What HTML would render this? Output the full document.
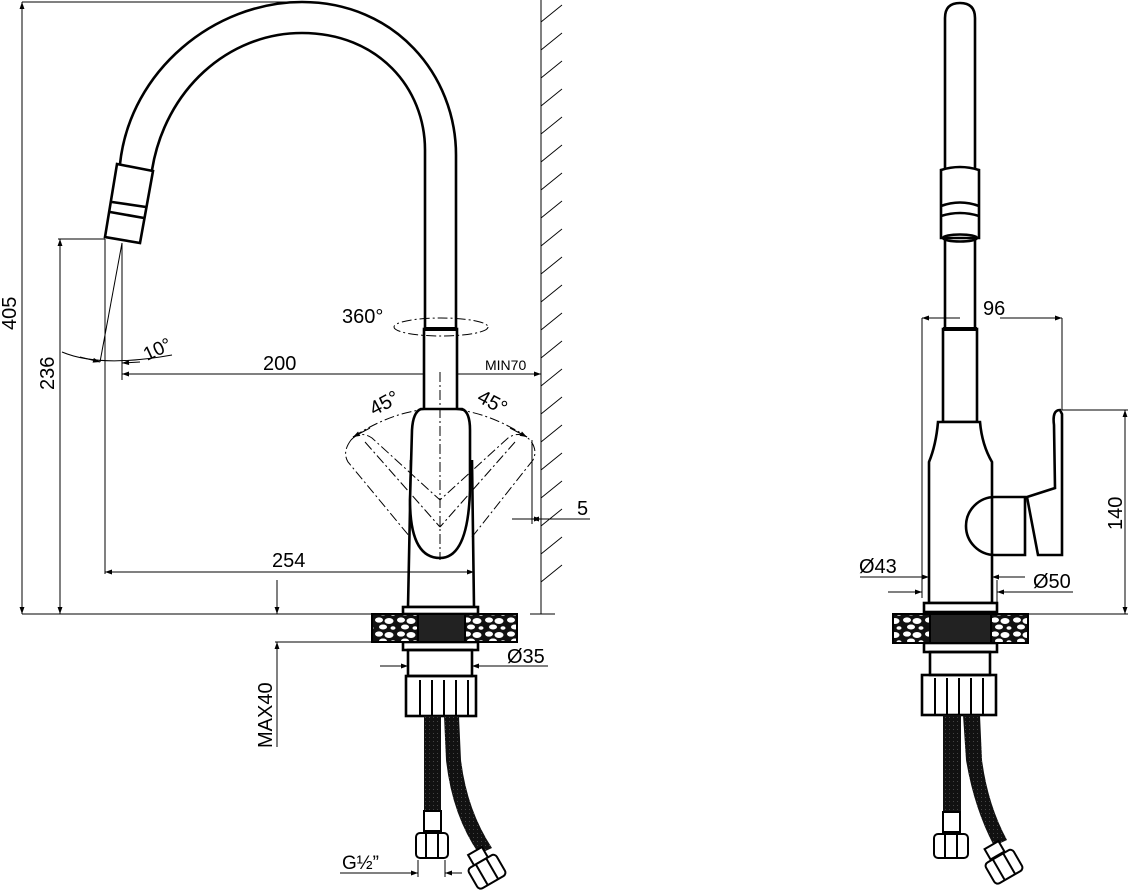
<!DOCTYPE html>
<html><head><meta charset="utf-8"><style>
html,body{margin:0;padding:0;background:#fff;}
svg{display:block;}
text{font-family:"Liberation Sans",sans-serif;fill:#000;}
</style></head><body>
<svg width="1129" height="896" viewBox="0 0 1129 896" xmlns="http://www.w3.org/2000/svg">
<defs>
<marker id="a" viewBox="0 0 10 10" refX="10" refY="5" markerWidth="14" markerHeight="7" markerUnits="userSpaceOnUse" orient="auto"><path d="M0,1.5 L10,5 L0,8.5 Z" fill="#000"/></marker>
<pattern id="stone" width="22" height="14" patternUnits="userSpaceOnUse">
<rect width="22" height="14" fill="#111"/>
<ellipse cx="5" cy="4" rx="4" ry="2.6" fill="#fff"/>
<ellipse cx="15" cy="5" rx="4.5" ry="3" fill="#fff"/>
<ellipse cx="9" cy="11" rx="4" ry="2.5" fill="#fff"/>
<ellipse cx="19" cy="12" rx="2.5" ry="1.8" fill="#fff"/>
</pattern>
<pattern id="hose" width="4" height="4" patternUnits="userSpaceOnUse">
<rect width="4" height="4" fill="#111"/><rect x="1" y="1" width="1" height="1" fill="#444"/>
</pattern>
</defs>

<g fill="none" stroke="#000" stroke-width="1">
<line x1="541" y1="0" x2="541" y2="614"/>
<line x1="530" y1="614" x2="555" y2="614"/>
<g stroke-width="0.9">
<line x1="541" y1="22" x2="562" y2="5"/><line x1="541" y1="50" x2="562" y2="33"/><line x1="541" y1="78" x2="562" y2="61"/><line x1="541" y1="106" x2="562" y2="89"/><line x1="541" y1="134" x2="562" y2="117"/><line x1="541" y1="162" x2="562" y2="145"/><line x1="541" y1="190" x2="562" y2="173"/><line x1="541" y1="218" x2="562" y2="201"/><line x1="541" y1="246" x2="562" y2="229"/><line x1="541" y1="274" x2="562" y2="257"/><line x1="541" y1="302" x2="562" y2="285"/><line x1="541" y1="330" x2="562" y2="313"/><line x1="541" y1="358" x2="562" y2="341"/><line x1="541" y1="386" x2="562" y2="369"/><line x1="541" y1="414" x2="562" y2="397"/><line x1="541" y1="442" x2="562" y2="425"/><line x1="541" y1="470" x2="562" y2="453"/><line x1="541" y1="498" x2="562" y2="481"/><line x1="541" y1="526" x2="562" y2="509"/><line x1="541" y1="554" x2="562" y2="537"/><line x1="541" y1="582" x2="562" y2="565"/>
</g>

<line x1="22" y1="2" x2="300" y2="2"/>
<line x1="22" y1="614" x2="403" y2="614"/>
<line x1="22" y1="614" x2="22" y2="2" marker-end="url(#a)"/>
<line x1="22" y1="2" x2="22" y2="614" marker-end="url(#a)"/>
<line x1="58" y1="239" x2="105" y2="239"/>
<line x1="60" y1="614" x2="60" y2="239" marker-end="url(#a)"/>
<line x1="60" y1="239" x2="60" y2="614" marker-end="url(#a)"/>
<line x1="105" y1="239" x2="105" y2="574"/>
<line x1="474" y1="560" x2="474" y2="607"/>
<line x1="300" y1="572" x2="105" y2="572" marker-end="url(#a)"/>
<line x1="300" y1="572" x2="474" y2="572" marker-end="url(#a)"/>
<line x1="122" y1="243" x2="122" y2="380"/>
<line x1="300" y1="374" x2="122" y2="374" marker-end="url(#a)"/>
<line x1="300" y1="374" x2="541" y2="374" marker-end="url(#a)"/>
<line x1="122" y1="243" x2="100" y2="362"/>
<path d="M62,352 Q100,368 172,355"/>
<line x1="80" y1="357" x2="100" y2="362" marker-end="url(#a)"/>
<line x1="140" y1="362" x2="122" y2="363" marker-end="url(#a)"/>
<line x1="277" y1="580" x2="277" y2="614" marker-end="url(#a)"/>
<line x1="277" y1="747" x2="277" y2="642" marker-end="url(#a)"/>
<line x1="275" y1="642" x2="375" y2="642"/>
<line x1="380" y1="666" x2="408" y2="666" marker-end="url(#a)"/>
<line x1="548" y1="666" x2="472" y2="666" marker-end="url(#a)"/>
<line x1="472" y1="650" x2="472" y2="670"/>
<line x1="512" y1="519" x2="541" y2="519" marker-end="url(#a)"/>
<line x1="590" y1="519" x2="532" y2="519" marker-end="url(#a)"/>
<line x1="532" y1="440" x2="532" y2="524"/>
<line x1="340" y1="873" x2="418" y2="873" marker-end="url(#a)"/>
<line x1="462" y1="873" x2="445" y2="873" marker-end="url(#a)"/>
<line x1="418" y1="860" x2="418" y2="877"/><line x1="445" y1="860" x2="445" y2="877"/>
</g>

<g fill="none" stroke="#000" stroke-width="2.6">
<path d="M120,164 C130,70 215,2 302,2 C395,2 456,75 456,155 L456,329"/>
<path d="M152,170 C165,90 228,33 302,33 C378,33 425,88 425,150 L425,329"/>
<path d="M117,164 L153,171 L140,243 L105,237 Z" fill="#fff"/>
<line x1="112" y1="202" x2="146" y2="207"/><line x1="110" y1="212" x2="144" y2="218"/>
<rect x="424" y="329" width="33" height="95" fill="#fff"/>
<path d="M411,460 L408,607 L474,607 L472,460"/>
<path d="M421,409 L462,409 Q470,412 470,430 L470,490 Q468,558 440,558 Q410,558 410,500 L412,430 Q413,412 421,409 Z" fill="#fff"/>
<rect x="403" y="607" width="75" height="7" fill="#fff"/>
<rect x="403" y="642" width="75" height="8"/>
<rect x="408" y="650" width="64" height="26"/>
<rect x="406" y="676" width="70" height="40"/>
</g>
<line x1="425" y1="329" x2="456" y2="329" stroke="#000" stroke-width="4"/>
<g stroke="#000" stroke-width="2"><line x1="420" y1="680" x2="420" y2="716"/><line x1="432" y1="680" x2="432" y2="716"/><line x1="444" y1="680" x2="444" y2="716"/><line x1="456" y1="680" x2="456" y2="716"/><line x1="468" y1="680" x2="468" y2="716"/></g>
<g fill="none" stroke="#000" stroke-width="1" stroke-dasharray="10,3,2,3">
<ellipse cx="441" cy="327" rx="47" ry="9"/>
<line x1="440" y1="372" x2="440" y2="560"/>
<path d="M351,440 Q360,430 372,438 L440,500 L508,438 Q520,430 530,440 Q538,450 533,460 L472,537 M351,440 Q342,452 348,462 L410,537"/>
<line x1="365" y1="442" x2="440" y2="527"/><line x1="515" y1="442" x2="440" y2="527"/>
<path d="M353,437 Q440,380 527,437"/>
</g>
<line x1="370" y1="428" x2="353" y2="437" stroke="#000" marker-end="url(#a)"/>
<line x1="510" y1="428" x2="527" y2="437" stroke="#000" marker-end="url(#a)"/>
<rect x="372" y="614" width="46" height="28" fill="url(#stone)" stroke="#000" stroke-width="2"/>
<rect x="465" y="614" width="52" height="28" fill="url(#stone)" stroke="#000" stroke-width="2"/>
<rect x="418" y="614" width="47" height="28" fill="#222" stroke="#000" stroke-width="2"/>
<rect x="424" y="716" width="17" height="95" fill="url(#hose)"/>
<path d="M444,716 L459,716 L461,760 Q467,810 492,848 L479,854 Q452,815 446,760 Z" fill="url(#hose)"/>
<g fill="#fff" stroke="#000" stroke-width="2">
<rect x="424" y="811" width="17" height="20"/>
<rect x="416" y="833" width="32" height="25" rx="4"/>
<line x1="426" y1="833" x2="426" y2="858"/><line x1="438" y1="833" x2="438" y2="858"/>
<g transform="rotate(-30 486 870)"><rect x="478" y="848" width="16" height="12"/><rect x="470" y="860" width="32" height="24" rx="4"/><line x1="480" y1="860" x2="480" y2="884"/><line x1="492" y1="860" x2="492" y2="884"/></g>
</g>

<g fill="none" stroke="#000" stroke-width="2.6">
<path d="M945,168 L945,18 Q945,3 960,3 Q975,3 975,18 L975,168"/>
<path d="M941,170 Q960,164 979,170 L979,238 L941,238 Z" fill="#fff"/>
<path d="M941,206 Q960,199 979,206 M941,216 Q960,210 979,216"/>
<ellipse cx="960" cy="238" rx="17" ry="3.5"/>
<line x1="945" y1="240" x2="945" y2="330"/><line x1="975" y1="240" x2="975" y2="330"/>
<rect x="943" y="329" width="34" height="93"/>
<path d="M938,422 L980,422 Q982,445 992,462 L992,603 L929,603 L929,462 Q936,445 938,422 Z" fill="#fff"/>
<path d="M995,497 A28,28 0 0 0 995,555"/>
<path d="M995,497 L1025,497 L1025,555 L995,555"/>
<path d="M1060,410 Q1052,410 1054,425 L1055,488 L1027,497 L1038,555 L1062,555 L1062,414 Z" fill="#fff"/>
<rect x="924" y="603" width="73" height="9" fill="#fff"/>
<rect x="924" y="643" width="73" height="9"/>
<rect x="930" y="652" width="60" height="23"/>
<rect x="922" y="675" width="74" height="40"/>
</g>
<line x1="943" y1="329" x2="977" y2="329" stroke="#000" stroke-width="4"/>
<g stroke="#000" stroke-width="2"><line x1="935" y1="678" x2="935" y2="715"/><line x1="947" y1="678" x2="947" y2="715"/><line x1="959" y1="678" x2="959" y2="715"/><line x1="971" y1="678" x2="971" y2="715"/><line x1="983" y1="678" x2="983" y2="715"/></g>
<rect x="893" y="614" width="37" height="29" fill="url(#stone)" stroke="#000" stroke-width="2"/>
<rect x="991" y="614" width="37" height="29" fill="url(#stone)" stroke="#000" stroke-width="2"/>
<rect x="930" y="614" width="61" height="29" fill="#222" stroke="#000" stroke-width="2"/>
<rect x="943" y="715" width="18" height="97" fill="url(#hose)"/>
<path d="M963,715 L980,715 L982,760 Q988,805 1007,840 L994,846 Q974,808 966,760 Z" fill="url(#hose)"/>
<g fill="#fff" stroke="#000" stroke-width="2">
<rect x="943" y="812" width="17" height="20"/>
<rect x="934" y="834" width="34" height="24" rx="4"/>
<line x1="945" y1="834" x2="945" y2="858"/><line x1="957" y1="834" x2="957" y2="858"/>
<g transform="rotate(-30 1003 865)"><rect x="995" y="842" width="16" height="12"/><rect x="987" y="855" width="32" height="24" rx="4"/><line x1="997" y1="855" x2="997" y2="879"/><line x1="1009" y1="855" x2="1009" y2="879"/></g>
</g>
<g fill="none" stroke="#000" stroke-width="1">
<line x1="922" y1="318" x2="922" y2="598"/>
<line x1="1062" y1="318" x2="1062" y2="410"/>
<line x1="960" y1="318" x2="922" y2="318" marker-end="url(#a)"/>
<line x1="1000" y1="318" x2="1062" y2="318" marker-end="url(#a)"/>
<line x1="1062" y1="410" x2="1128" y2="410"/>
<line x1="1028" y1="614" x2="1128" y2="614"/>
<line x1="1125" y1="510" x2="1125" y2="410" marker-end="url(#a)"/>
<line x1="1125" y1="510" x2="1125" y2="614" marker-end="url(#a)"/>
<line x1="860" y1="577" x2="929" y2="577" marker-end="url(#a)"/>
<line x1="1025" y1="577" x2="992" y2="577" marker-end="url(#a)"/>
<line x1="888" y1="592" x2="922" y2="592" marker-end="url(#a)"/>
<line x1="1073" y1="592" x2="997" y2="592" marker-end="url(#a)"/>
<line x1="997" y1="580" x2="997" y2="603"/>
</g>

<text x="0" y="0" font-size="20" transform="translate(16,330) rotate(-90)">405</text>
<text x="0" y="0" font-size="20" transform="translate(54,390) rotate(-90)">236</text>
<text x="263" y="370" font-size="20">200</text>
<text x="272" y="567" font-size="20">254</text>
<text x="342" y="323" font-size="20">360°</text>
<text x="485" y="370" font-size="14">MIN70</text>
<text x="0" y="0" font-size="19" transform="translate(147,361) rotate(-25)">10°</text>
<text x="0" y="0" font-size="20" transform="translate(374,416) rotate(-28)">45°</text>
<text x="0" y="0" font-size="20" transform="translate(476,401) rotate(28)">45°</text>
<text x="577" y="515" font-size="20">5</text>
<text x="507" y="663" font-size="20">Ø35</text>
<text x="0" y="0" font-size="20" transform="translate(272,748) rotate(-90)">MAX40</text>
<text x="342" y="869" font-size="19">G½”</text>
<text x="983" y="315" font-size="20">96</text>
<text x="0" y="0" font-size="20" transform="translate(1122,530) rotate(-90)">140</text>
<text x="859" y="573" font-size="20">Ø43</text>
<text x="1033" y="588" font-size="20">Ø50</text>
</svg>
</body></html>
